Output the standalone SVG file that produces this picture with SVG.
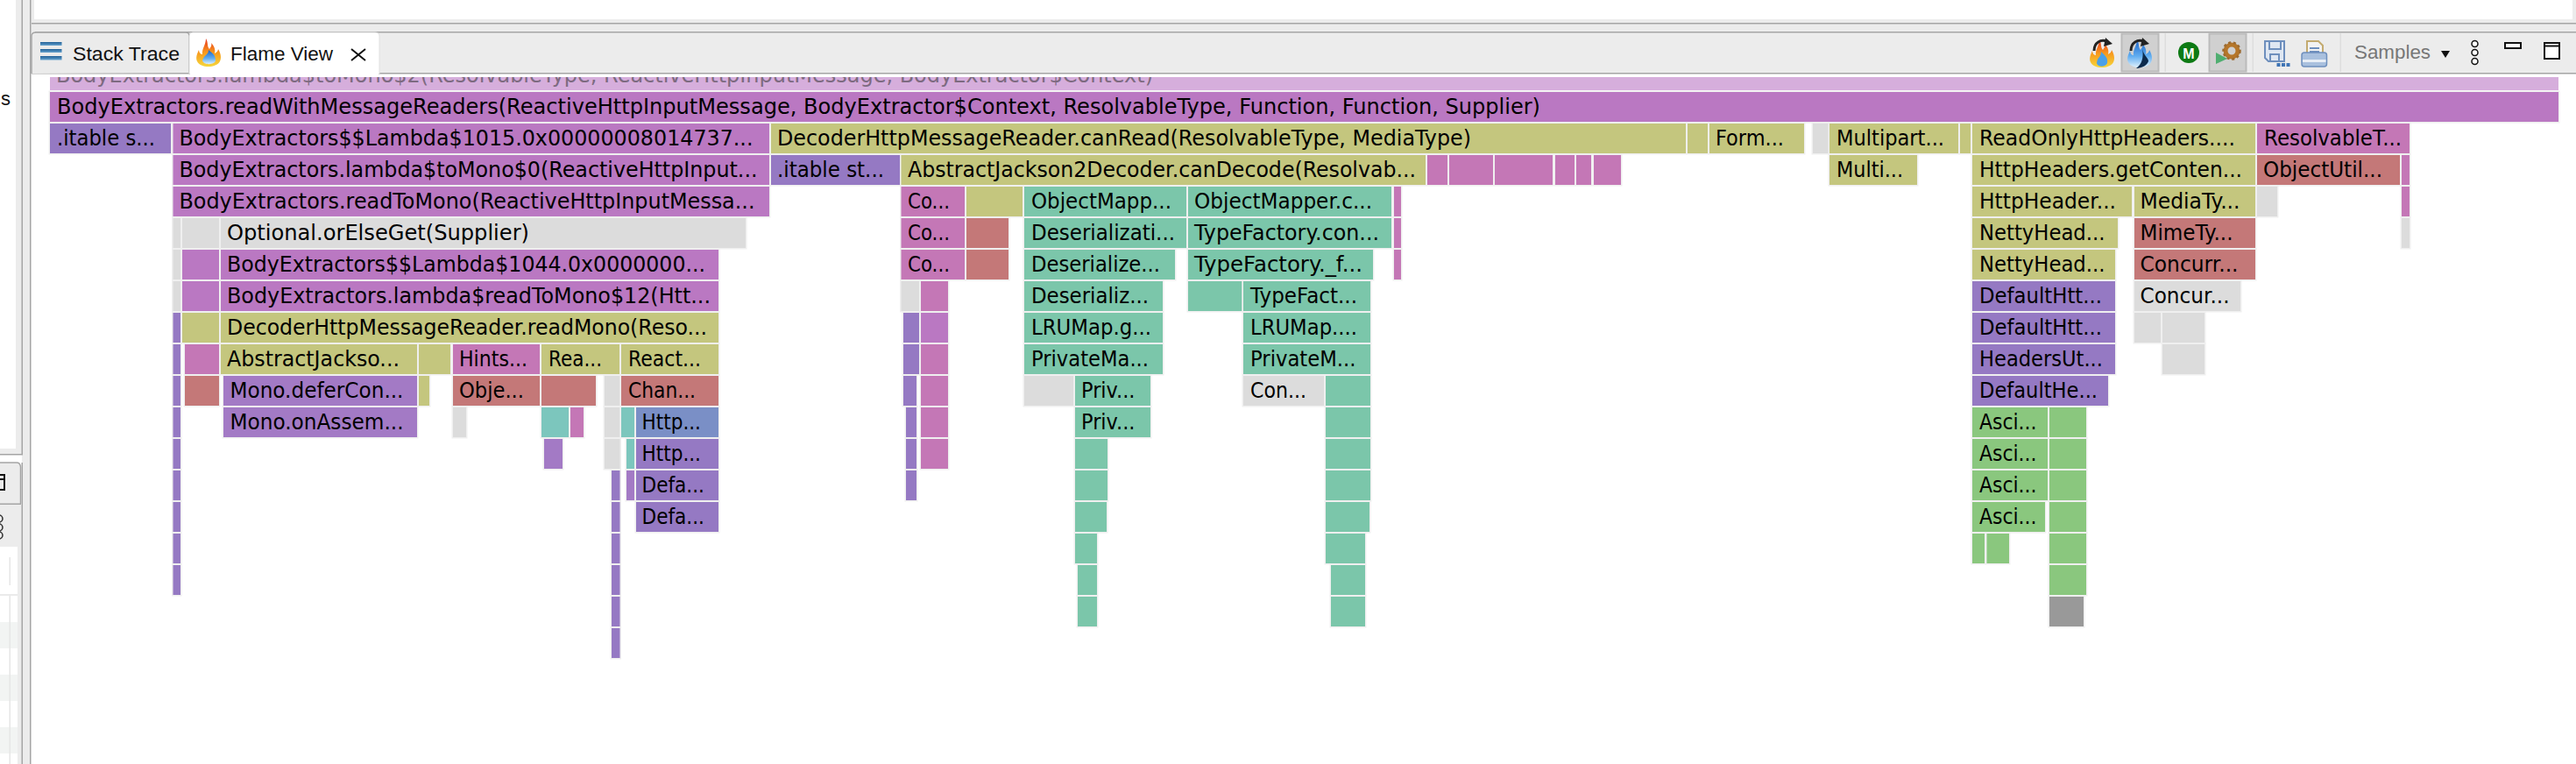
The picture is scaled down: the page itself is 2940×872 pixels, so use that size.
<svg xmlns="http://www.w3.org/2000/svg" width="2940" height="872" viewBox="0 0 2940 872">
<style>
.n rect{height:34px;stroke:#efefef;stroke-width:3;paint-order:stroke}
.n text{font:24px "DejaVu Sans",sans-serif;fill:#000}
.b{fill:#ba78c2}.k{fill:#c477b6}.y{fill:#c4c67e}.p{fill:#9579c3}.l{fill:#a37ac5}.r{fill:#c47878}.t{fill:#7bc6aa}.u{fill:#7cc6bd}.g{fill:#dcdcdc}.e{fill:#8ac77e}.d{fill:#999}.v{fill:#7a8fc6}
.ln{fill:#a5a5a5}.bar{fill:#ececec}
.ui{font:22px "Liberation Sans",Arial,sans-serif;fill:#111}
</style>
<defs>
<clipPath id="c0"><rect x="0" y="88" width="2940" height="20"/></clipPath>
<linearGradient id="hot" x1="0" y1="0" x2="0" y2="1"><stop offset="0" stop-color="#e8341c"/><stop offset=".5" stop-color="#f79a1e"/><stop offset="1" stop-color="#f5d63c"/></linearGradient>
<linearGradient id="cold" x1="0" y1="0" x2="0" y2="1"><stop offset="0" stop-color="#1560c8"/><stop offset=".6" stop-color="#62aef0"/><stop offset="1" stop-color="#dff0fc"/></linearGradient>
<linearGradient id="bars" x1="0" y1="0" x2="0" y2="1"><stop offset="0" stop-color="#1f5f96"/><stop offset="1" stop-color="#6aa5cf"/></linearGradient>
<path id="fl" d="M11 0C14 5 12 9 15 12C17 9 18 7 17 5C21 9 22 13 21 17C23 16 25 14 25 12C28 17 29 22 27 26C25 30 19 32 14 32C8 32 3 30 1 26C-1 22 1 17 3 13C3 16 5 18 7 18C6 12 11 7 11 0Z"/>
</defs>

<g id="chrome">
<rect x="0" y="0" width="2940" height="872" fill="#fff"/>
<rect class="bar" x="18" y="0" width="7" height="512"/>
<rect class="bar" x="0" y="512" width="25" height="7"/>
<rect class="bar" x="25" y="0" width="10" height="872"/>
<rect class="ln" x="24.5" y="0" width="1.5" height="519"/>
<rect class="ln" x="0" y="518" width="26" height="1.5"/>
<rect class="bar" x="35" y="0" width="4" height="26"/>
<rect class="bar" x="35" y="22" width="2905" height="15"/>
<rect x="2936" y="0" width="4" height="26" class="bar"/>
<rect class="ln" x="36" y="26" width="2904" height="1.5"/>
<rect class="bar" x="36" y="37" width="2904" height="46"/>
<rect class="ln" x="40" y="36" width="2900" height="1.5"/>
<rect class="ln" x="34" y="0" width="1.5" height="872"/>
<rect class="ln" x="36" y="83" width="2904" height="1.5"/>
<path d="M36 84V41Q36 37 41 37H212Q216 37 216 41V83" fill="#ebebeb" stroke="#a5a5a5" stroke-width="1.5"/>
<path d="M216 84V41Q216 37 220 37H428Q433 37 433 41V84" fill="#fff" stroke="#e0e0e0" stroke-width="1"/>
<rect x="217" y="82" width="215" height="3" fill="#fff"/>
<rect x="46" y="48" width="24.500" height="4" fill="url(#bars)"/>
<rect x="46" y="56" width="24.500" height="4" fill="url(#bars)"/>
<rect x="46" y="64" width="24.500" height="4.500" fill="url(#bars)"/>
<text class="ui" x="83" y="69" textLength="122" lengthAdjust="spacingAndGlyphs">Stack Trace</text>
<use href="#fl" x="224" y="44" fill="url(#hot)"/>
<path d="M231 69C233 62 238 63 238 57C243 61 246 63 246 69C246 74 232 75 231 69Z" fill="url(#cold)"/>
<text class="ui" x="263" y="69" textLength="117" lengthAdjust="spacingAndGlyphs">Flame View</text>
<path d="M401 56L417 69M417 56L401 69" stroke="#111" stroke-width="2" fill="none"/>
<text class="ui" x="1" y="120">s</text>
<rect x="0" y="528" width="23" height="47" fill="#ececec"/>
<path d="M0 528H19Q23 528 23.500 533V575" fill="none" stroke="#a5a5a5" stroke-width="1.500"/>
<rect class="ln" x="0" y="574.500" width="24" height="1.500"/>
<rect class="bar" x="0" y="576" width="25" height="48"/>
<rect x="0" y="624" width="20" height="248" fill="#fff"/>
<rect class="bar" x="20" y="576" width="5" height="296"/>
<rect class="ln" x="24.500" y="528" width="1.500" height="344"/>
<path d="M-3 542H5V559H-3M-3 547H5" fill="none" stroke="#111" stroke-width="2"/>
<g fill="none" stroke="#333" stroke-width="1.500"><circle cx="-1" cy="592" r="4"/><circle cx="-1" cy="602" r="4"/><circle cx="-1" cy="611" r="4"/></g>
<rect x="0" y="678" width="20" height="2" fill="#eaeaea"/>
<rect x="0" y="710" width="20" height="30" fill="#f2f4f3"/>
<rect x="0" y="770" width="20" height="30" fill="#f2f4f3"/>
<rect x="0" y="830" width="20" height="30" fill="#f2f4f3"/>
<rect x="10.500" y="636" width="1.500" height="32" fill="#e6e6e6"/>
<rect x="10.500" y="680" width="1.500" height="192" fill="#e6e6e6"/>
</g>

<g id="toolbar">
<rect x="2421.500" y="38.500" width="42" height="43" fill="#d0d0d0" stroke="#bbb" stroke-width="2"/>
<rect x="2521.500" y="38.500" width="42" height="43" fill="#d0d0d0" stroke="#bbb" stroke-width="2"/>
<rect x="2470.500" y="38" width="1.500" height="44" fill="#ddd"/>
<rect x="2570.500" y="38" width="1.500" height="44" fill="#ddd"/>
<rect x="2670.500" y="38" width="1.500" height="44" fill="#ddd"/>
<g id="flame-forward">
<use href="#fl" x="2385" y="45" fill="url(#hot)"/>
<path d="M2393 72C2394 64 2398 66 2398 59C2403 64 2406 66 2405 72C2403 77 2394 77 2393 72Z" fill="#4aa0e8"/>
<path d="M2390 58C2390 48 2398 45 2404 47" fill="none" stroke="#222" stroke-width="3"/>
<path d="M2403 43L2411 50L2401 53Z" fill="#222"/>
</g>
<g id="flame-reverse">
<use href="#fl" x="2428" y="45" fill="url(#cold)"/>
<path d="M2445 56C2447 64 2452 66 2452 70C2450 76 2442 78 2438 78C2444 74 2447 66 2445 56Z" fill="#0c2a4c"/>
<path d="M2432 58C2432 48 2440 45 2446 47" fill="none" stroke="#222" stroke-width="3"/>
<path d="M2445 43L2453 50L2443 53Z" fill="#222"/>
</g>
<g id="icon-m">
<circle cx="2498" cy="60" r="12" fill="#0d7a14"/>
<text x="2498" y="66.500" text-anchor="middle" style="font:bold 16px 'Liberation Sans',sans-serif" fill="#fff">M</text>
</g>
<g id="icon-gear">
<circle cx="2547" cy="58" r="7" fill="none" stroke="#b5762a" stroke-width="5"/>
<circle cx="2547" cy="58" r="9.500" fill="none" stroke="#9c6a30" stroke-width="2.500" stroke-dasharray="3 2.800"/>
<path d="M2529 60L2542 67L2529 73Z" fill="#4fae70"/>
</g>
<g id="icon-save" fill="none" stroke="#6e8fbd" stroke-width="2">
<path d="M2585 47H2607V70H2589L2585 66Z" fill="#dfe7f2"/>
<path d="M2590 47V56H2603V47M2591 70V62H2601V70"/>
<g fill="#3f74b5" stroke="none"><rect x="2598.500" y="72" width="4" height="4"/><rect x="2604" y="72" width="4" height="4"/><rect x="2609.500" y="72" width="4" height="4"/></g>
</g>
<g id="icon-print">
<path d="M2633 47H2646L2651 52V64H2633Z" fill="#f2f2f2" stroke="#c4ab70" stroke-width="2"/>
<path d="M2636 55H2647M2636 59H2647" stroke="#6e8fbd" stroke-width="2"/>
<rect x="2627" y="60" width="28.500" height="16" rx="3" fill="#a9c0de" stroke="#6e8fbd" stroke-width="1.500"/>
<rect x="2628" y="68" width="26.500" height="3" fill="#e8eef6"/>
</g>
<text x="2687" y="67" textLength="87" lengthAdjust="spacingAndGlyphs" style="font:22px 'Liberation Sans',sans-serif" fill="#777">Samples</text>
<path d="M2786 58H2796L2791 66Z" fill="#111"/>
<g fill="#fff" stroke="#111" stroke-width="1.500"><circle cx="2824.500" cy="50" r="3.500"/><circle cx="2824.500" cy="60" r="3.500"/><circle cx="2824.500" cy="70" r="3.500"/></g>
<rect x="2859" y="49" width="18" height="6" fill="#fff" stroke="#111" stroke-width="2"/>
<path d="M2904 49H2921V67H2904ZM2904 52.500H2921" fill="#fff" stroke="#111" stroke-width="2"/>
</g>

<g id="flamegraph" class="n">
<g id="f0"><rect x="57" y="88" width="2863" style="height:15px;stroke:none" fill="#d6aedc"/><text x="64" y="93.500" clip-path="url(#c0)" style="fill:#7d6a80" textLength="1252" lengthAdjust="spacingAndGlyphs">BodyExtractors.lambda$toMono$2(ResolvableType, ReactiveHttpInputMessage, BodyExtractor$Context)</text></g>
<g id="f1"><rect class="b" x="57" y="105" width="2863"/><text x="65" y="129.500" textLength="1693" lengthAdjust="spacingAndGlyphs">BodyExtractors.readWithMessageReaders(ReactiveHttpInputMessage, BodyExtractor$Context, ResolvableType, Function, Function, Supplier)</text></g>

<g id="f2a"><rect class="p" x="57" y="141" width="138"/><text x="65" y="165.500" textLength="112" lengthAdjust="spacingAndGlyphs">.itable s...</text></g>
<g id="f2b"><rect class="b" x="197.500" y="141" width="680.500"/><text x="204.500" y="165.500" textLength="655" lengthAdjust="spacingAndGlyphs">BodyExtractors$$Lambda$1015.0x00000008014737...</text></g>
<g id="f2c"><rect class="y" x="880" y="141" width="1044"/><text x="887" y="165.500" textLength="792" lengthAdjust="spacingAndGlyphs">DecoderHttpMessageReader.canRead(ResolvableType, MediaType)</text></g>
<g id="f2d"><rect class="y" x="1926" y="141" width="23"/></g>
<g id="f2e"><rect class="y" x="1951" y="141" width="108"/><text x="1958" y="165.500" textLength="78" lengthAdjust="spacingAndGlyphs">Form...</text></g>
<g id="f2f"><rect class="g" x="2069" y="141" width="18"/></g>
<g id="f2g"><rect class="y" x="2088" y="141" width="147"/><text x="2096" y="165.500" textLength="123" lengthAdjust="spacingAndGlyphs">Multipart...</text></g>
<g id="f2h"><rect class="y" x="2237" y="141" width="12"/></g>
<g id="f2i"><rect class="y" x="2251" y="141" width="323"/><text x="2259" y="165.500" textLength="292" lengthAdjust="spacingAndGlyphs">ReadOnlyHttpHeaders....</text></g>
<g id="f2j"><rect class="k" x="2576" y="141" width="174"/><text x="2584" y="165.500" textLength="157" lengthAdjust="spacingAndGlyphs">ResolvableT...</text></g>

<g id="f3a"><rect class="b" x="197.500" y="177" width="680.500"/><text x="204.500" y="201.500" textLength="660" lengthAdjust="spacingAndGlyphs">BodyExtractors.lambda$toMono$0(ReactiveHttpInput...</text></g>
<g id="f3b"><rect class="p" x="880" y="177" width="147"/><text x="887" y="201.500" textLength="122" lengthAdjust="spacingAndGlyphs">.itable st...</text></g>
<g id="f3c"><rect class="y" x="1028.500" y="177" width="598.500"/><text x="1036" y="201.500" textLength="580" lengthAdjust="spacingAndGlyphs">AbstractJackson2Decoder.canDecode(Resolvab...</text></g>
<g id="f3d"><rect class="k" x="1629" y="177" width="23"/></g>
<g id="f3e"><rect class="k" x="1654" y="177" width="50"/></g>
<g id="f3f"><rect class="k" x="1706" y="177" width="66"/></g>
<g id="f3g"><rect class="k" x="1775" y="177" width="22"/></g>
<g id="f3h"><rect class="k" x="1799" y="177" width="17"/></g>
<g id="f3i"><rect class="k" x="1819" y="177" width="31"/></g>
<g id="f3j"><rect class="y" x="2088" y="177" width="100"/><text x="2096" y="201.500" textLength="76" lengthAdjust="spacingAndGlyphs">Multi...</text></g>
<g id="f3k"><rect class="y" x="2251" y="177" width="323"/><text x="2259" y="201.500" textLength="300" lengthAdjust="spacingAndGlyphs">HttpHeaders.getConten...</text></g>
<g id="f3l"><rect class="r" x="2576" y="177" width="163"/><text x="2583" y="201.500" textLength="136" lengthAdjust="spacingAndGlyphs">ObjectUtil...</text></g>
<g id="f3m"><rect class="k" x="2741" y="177" width="9"/></g>

<g id="f4a"><rect class="b" x="197.500" y="213" width="680.500"/><text x="204.500" y="237.500" textLength="657" lengthAdjust="spacingAndGlyphs">BodyExtractors.readToMono(ReactiveHttpInputMessa...</text></g>
<g id="f4b"><rect class="k" x="1028.500" y="213" width="72.500"/><text x="1036" y="237.500" textLength="48" lengthAdjust="spacingAndGlyphs">Co...</text></g>
<g id="f4c"><rect class="y" x="1103" y="213" width="64"/></g>
<g id="f4d"><rect class="t" x="1169" y="213" width="185"/><text x="1177" y="237.500" textLength="160" lengthAdjust="spacingAndGlyphs">ObjectMapp...</text></g>
<g id="f4e"><rect class="t" x="1356" y="213" width="232"/><text x="1363" y="237.500" textLength="203" lengthAdjust="spacingAndGlyphs">ObjectMapper.c...</text></g>
<g id="f4f"><rect class="k" x="1591" y="213" width="8"/></g>
<g id="f4g"><rect class="y" x="2251" y="213" width="182"/><text x="2259" y="237.500" textLength="156" lengthAdjust="spacingAndGlyphs">HttpHeader...</text></g>
<g id="f4h"><rect class="y" x="2436" y="213" width="138"/><text x="2442.500" y="237.500" textLength="114" lengthAdjust="spacingAndGlyphs">MediaTy...</text></g>
<g id="f4i"><rect class="g" x="2576" y="213" width="23"/></g>
<g id="f4j"><rect class="k" x="2741" y="213" width="9"/></g>

<g id="f5a"><rect class="g" x="197.500" y="249" width="8.500"/></g>
<g id="f5b"><rect class="g" x="208" y="249" width="42"/></g>
<g id="f5c"><rect class="g" x="252" y="249" width="599"/><text x="259" y="273.500" textLength="345" lengthAdjust="spacingAndGlyphs">Optional.orElseGet(Supplier)</text></g>
<g id="f5d"><rect class="k" x="1028.500" y="249" width="72.500"/><text x="1036" y="273.500" textLength="48" lengthAdjust="spacingAndGlyphs">Co...</text></g>
<g id="f5e"><rect class="r" x="1103" y="249" width="48"/></g>
<g id="f5f"><rect class="t" x="1169" y="249" width="185"/><text x="1177" y="273.500" textLength="164" lengthAdjust="spacingAndGlyphs">Deserializati...</text></g>
<g id="f5g"><rect class="t" x="1356" y="249" width="232"/><text x="1363" y="273.500" textLength="211" lengthAdjust="spacingAndGlyphs">TypeFactory.con...</text></g>
<g id="f5h"><rect class="k" x="1591" y="249" width="8"/></g>
<g id="f5i"><rect class="y" x="2251" y="249" width="166"/><text x="2259" y="273.500" textLength="143.500" lengthAdjust="spacingAndGlyphs">NettyHead...</text></g>
<g id="f5j"><rect class="r" x="2436" y="249" width="138"/><text x="2442.500" y="273.500" textLength="106" lengthAdjust="spacingAndGlyphs">MimeTy...</text></g>
<g id="f5k"><rect class="g" x="2741" y="249" width="9"/></g>

<g id="f6a"><rect class="g" x="197.500" y="285" width="8.500"/></g>
<g id="f6b"><rect class="b" x="208" y="285" width="42"/></g>
<g id="f6c"><rect class="b" x="252" y="285" width="568"/><text x="259" y="309.500" textLength="546" lengthAdjust="spacingAndGlyphs">BodyExtractors$$Lambda$1044.0x0000000...</text></g>
<g id="f6d"><rect class="k" x="1028.500" y="285" width="72.500"/><text x="1036" y="309.500" textLength="48" lengthAdjust="spacingAndGlyphs">Co...</text></g>
<g id="f6e"><rect class="r" x="1103" y="285" width="48"/></g>
<g id="f6f"><rect class="t" x="1169" y="285" width="172"/><text x="1177" y="309.500" textLength="147" lengthAdjust="spacingAndGlyphs">Deserialize...</text></g>
<g id="f6g"><rect class="t" x="1356" y="285" width="211"/><text x="1363" y="309.500" textLength="192" lengthAdjust="spacingAndGlyphs">TypeFactory._f...</text></g>
<g id="f6h"><rect class="k" x="1591" y="285" width="8"/></g>
<g id="f6i"><rect class="y" x="2251" y="285" width="163"/><text x="2259" y="309.500" textLength="143.500" lengthAdjust="spacingAndGlyphs">NettyHead...</text></g>
<g id="f6j"><rect class="r" x="2436" y="285" width="138"/><text x="2442.500" y="309.500" textLength="112" lengthAdjust="spacingAndGlyphs">Concurr...</text></g>

<g id="f7a"><rect class="g" x="197.500" y="321" width="8.500"/></g>
<g id="f7b"><rect class="b" x="208" y="321" width="42"/></g>
<g id="f7c"><rect class="b" x="252" y="321" width="568"/><text x="259" y="345.500" textLength="552" lengthAdjust="spacingAndGlyphs">BodyExtractors.lambda$readToMono$12(Htt...</text></g>
<g id="f7d"><rect class="g" x="1028.500" y="321" width="20.500"/></g>
<g id="f7e"><rect class="k" x="1051" y="321" width="31"/></g>
<g id="f7f"><rect class="t" x="1169" y="321" width="158"/><text x="1177" y="345.500" textLength="134" lengthAdjust="spacingAndGlyphs">Deserializ...</text></g>
<g id="f7g"><rect class="t" x="1356" y="321" width="61.500"/></g>
<g id="f7h"><rect class="t" x="1419" y="321" width="145"/><text x="1427" y="345.500" textLength="122" lengthAdjust="spacingAndGlyphs">TypeFact...</text></g>
<g id="f7i"><rect class="p" x="2251" y="321" width="163"/><text x="2259" y="345.500" textLength="140" lengthAdjust="spacingAndGlyphs">DefaultHtt...</text></g>
<g id="f7j"><rect class="g" x="2436" y="321" width="121"/><text x="2442.500" y="345.500" textLength="102" lengthAdjust="spacingAndGlyphs">Concur...</text></g>

<g id="f8a"><rect class="p" x="197.500" y="357" width="8.500"/></g>
<g id="f8b"><rect class="y" x="208" y="357" width="42"/></g>
<g id="f8c"><rect class="y" x="252" y="357" width="568"/><text x="259" y="381.500" textLength="548" lengthAdjust="spacingAndGlyphs">DecoderHttpMessageReader.readMono(Reso...</text></g>
<g id="f8d"><rect class="p" x="1031" y="357" width="18"/></g>
<g id="f8e"><rect class="b" x="1051" y="357" width="31"/></g>
<g id="f8f"><rect class="t" x="1169" y="357" width="158"/><text x="1177" y="381.500" textLength="137" lengthAdjust="spacingAndGlyphs">LRUMap.g...</text></g>
<g id="f8g"><rect class="t" x="1419" y="357" width="145"/><text x="1427" y="381.500" textLength="122" lengthAdjust="spacingAndGlyphs">LRUMap....</text></g>
<g id="f8h"><rect class="p" x="2251" y="357" width="163"/><text x="2259" y="381.500" textLength="140" lengthAdjust="spacingAndGlyphs">DefaultHtt...</text></g>
<g id="f8i"><rect class="g" x="2436" y="357" width="30"/></g>
<g id="f8j"><rect class="g" x="2468" y="357" width="48"/></g>

<g id="f9a"><rect class="p" x="197.500" y="393" width="8.500"/></g>
<g id="f9b"><rect class="k" x="211" y="393" width="39"/></g>
<g id="f9c"><rect class="y" x="252" y="393" width="224"/><text x="259" y="417.500" textLength="197" lengthAdjust="spacingAndGlyphs">AbstractJackso...</text></g>
<g id="f9d"><rect class="y" x="478" y="393" width="36"/></g>
<g id="f9e"><rect class="k" x="517" y="393" width="99"/><text x="524" y="417.500" textLength="78" lengthAdjust="spacingAndGlyphs">Hints...</text></g>
<g id="f9f"><rect class="y" x="618" y="393" width="89"/><text x="626" y="417.500" textLength="61" lengthAdjust="spacingAndGlyphs">Rea...</text></g>
<g id="f9g"><rect class="y" x="709" y="393" width="111"/><text x="717" y="417.500" textLength="83" lengthAdjust="spacingAndGlyphs">React...</text></g>
<g id="f9h"><rect class="p" x="1031" y="393" width="18"/></g>
<g id="f9i"><rect class="k" x="1051" y="393" width="31"/></g>
<g id="f9j"><rect class="t" x="1169" y="393" width="158"/><text x="1177" y="417.500" textLength="134" lengthAdjust="spacingAndGlyphs">PrivateMa...</text></g>
<g id="f9k"><rect class="t" x="1419" y="393" width="145"/><text x="1427" y="417.500" textLength="120.500" lengthAdjust="spacingAndGlyphs">PrivateM...</text></g>
<g id="f9l"><rect class="p" x="2251" y="393" width="163"/><text x="2259" y="417.500" textLength="141" lengthAdjust="spacingAndGlyphs">HeadersUt...</text></g>
<g id="f9m"><rect class="g" x="2468" y="393" width="48"/></g>

<g id="f10a"><rect class="p" x="197.500" y="429" width="8.500"/></g>
<g id="f10b"><rect class="r" x="211" y="429" width="39"/></g>
<g id="f10c"><rect class="l" x="255" y="429" width="221"/><text x="262.500" y="453.500" textLength="198" lengthAdjust="spacingAndGlyphs">Mono.deferCon...</text></g>
<g id="f10d"><rect class="y" x="478" y="429" width="12"/></g>
<g id="f10e"><rect class="r" x="517" y="429" width="99"/><text x="524" y="453.500" textLength="74" lengthAdjust="spacingAndGlyphs">Obje...</text></g>
<g id="f10f"><rect class="r" x="618" y="429" width="62"/></g>
<g id="f10g"><rect class="g" x="690" y="429" width="17.500"/></g>
<g id="f10h"><rect class="r" x="709" y="429" width="111"/><text x="717" y="453.500" textLength="77" lengthAdjust="spacingAndGlyphs">Chan...</text></g>
<g id="f10i"><rect class="p" x="1031" y="429" width="15"/></g>
<g id="f10j"><rect class="k" x="1051" y="429" width="31"/></g>
<g id="f10k"><rect class="g" x="1169" y="429" width="56"/></g>
<g id="f10l"><rect class="t" x="1227" y="429" width="86"/><text x="1234" y="453.500" textLength="61.500" lengthAdjust="spacingAndGlyphs">Priv...</text></g>
<g id="f10m"><rect class="g" x="1419" y="429" width="92"/><text x="1427" y="453.500" textLength="64" lengthAdjust="spacingAndGlyphs">Con...</text></g>
<g id="f10n"><rect class="t" x="1513" y="429" width="51"/></g>
<g id="f10o"><rect class="p" x="2251" y="429" width="155"/><text x="2259" y="453.500" textLength="135" lengthAdjust="spacingAndGlyphs">DefaultHe...</text></g>

<g id="f11a"><rect class="p" x="197.500" y="465" width="8.500"/></g>
<g id="f11b"><rect class="l" x="255" y="465" width="221"/><text x="262.500" y="489.500" textLength="198" lengthAdjust="spacingAndGlyphs">Mono.onAssem...</text></g>
<g id="f11c"><rect class="g" x="517" y="465" width="15"/></g>
<g id="f11d"><rect class="u" x="618" y="465" width="31"/></g>
<g id="f11e"><rect class="k" x="651" y="465" width="15"/></g>
<g id="f11f"><rect class="g" x="690" y="465" width="17.500"/></g>
<g id="f11g"><rect class="u" x="709" y="465" width="15"/></g>
<g id="f11h"><rect class="v" x="726" y="465" width="94"/><text x="732.500" y="489.500" textLength="67.500" lengthAdjust="spacingAndGlyphs">Http...</text></g>
<g id="f11i"><rect class="p" x="1034" y="465" width="12"/></g>
<g id="f11j"><rect class="k" x="1051" y="465" width="31"/></g>
<g id="f11k"><rect class="t" x="1227" y="465" width="86"/><text x="1234" y="489.500" textLength="61.500" lengthAdjust="spacingAndGlyphs">Priv...</text></g>
<g id="f11l"><rect class="t" x="1513" y="465" width="51"/></g>
<g id="f11m"><rect class="e" x="2251" y="465" width="86"/><text x="2259" y="489.500" textLength="65.500" lengthAdjust="spacingAndGlyphs">Asci...</text></g>
<g id="f11n"><rect class="e" x="2339" y="465" width="42"/></g>

<g id="f12a"><rect class="p" x="197.500" y="501" width="8.500"/></g>
<g id="f12b"><rect class="l" x="621" y="501" width="21"/></g>
<g id="f12c"><rect class="g" x="690" y="501" width="17.500"/></g>
<g id="f12d"><rect class="u" x="715" y="501" width="9"/></g>
<g id="f12e"><rect class="p" x="726" y="501" width="94"/><text x="732.500" y="525.500" textLength="67.500" lengthAdjust="spacingAndGlyphs">Http...</text></g>
<g id="f12f"><rect class="p" x="1034" y="501" width="12"/></g>
<g id="f12g"><rect class="k" x="1051" y="501" width="31"/></g>
<g id="f12h"><rect class="t" x="1227" y="501" width="37"/></g>
<g id="f12i"><rect class="t" x="1513" y="501" width="51"/></g>
<g id="f12j"><rect class="e" x="2251" y="501" width="86"/><text x="2259" y="525.500" textLength="65.500" lengthAdjust="spacingAndGlyphs">Asci...</text></g>
<g id="f12k"><rect class="e" x="2339" y="501" width="42"/></g>

<g id="f13a"><rect class="p" x="197.500" y="537" width="8.500"/></g>
<g id="f13b"><rect class="p" x="698" y="537" width="9.500"/></g>
<g id="f13c"><rect class="l" x="715" y="537" width="9"/></g>
<g id="f13d"><rect class="p" x="726" y="537" width="94"/><text x="732.500" y="561.500" textLength="71.500" lengthAdjust="spacingAndGlyphs">Defa...</text></g>
<g id="f13e"><rect class="p" x="1034" y="537" width="12"/></g>
<g id="f13f"><rect class="t" x="1227" y="537" width="37"/></g>
<g id="f13g"><rect class="t" x="1513" y="537" width="51"/></g>
<g id="f13h"><rect class="e" x="2251" y="537" width="86"/><text x="2259" y="561.500" textLength="65.500" lengthAdjust="spacingAndGlyphs">Asci...</text></g>
<g id="f13i"><rect class="e" x="2339" y="537" width="42"/></g>

<g id="f14a"><rect class="p" x="197.500" y="573" width="8.500"/></g>
<g id="f14b"><rect class="p" x="698" y="573" width="9.500"/></g>
<g id="f14c"><rect class="p" x="726" y="573" width="94"/><text x="732.500" y="597.500" textLength="71.500" lengthAdjust="spacingAndGlyphs">Defa...</text></g>
<g id="f14d"><rect class="t" x="1227" y="573" width="36"/></g>
<g id="f14e"><rect class="t" x="1513" y="573" width="50"/></g>
<g id="f14f"><rect class="e" x="2251" y="573" width="83"/><text x="2259" y="597.500" textLength="65.500" lengthAdjust="spacingAndGlyphs">Asci...</text></g>
<g id="f14g"><rect class="e" x="2339" y="573" width="42"/></g>

<g id="f15a"><rect class="p" x="197.500" y="609" width="8.500"/></g>
<g id="f15b"><rect class="p" x="698" y="609" width="9.500"/></g>
<g id="f15c"><rect class="t" x="1227" y="609" width="25"/></g>
<g id="f15d"><rect class="t" x="1513" y="609" width="45"/></g>
<g id="f15e"><rect class="e" x="2251" y="609" width="14"/></g>
<g id="f15f"><rect class="e" x="2267.500" y="609" width="25.500"/></g>
<g id="f15g"><rect class="e" x="2339" y="609" width="42"/></g>

<g id="f16a"><rect class="p" x="197.500" y="645" width="8.500"/></g>
<g id="f16b"><rect class="p" x="698" y="645" width="9.500"/></g>
<g id="f16c"><rect class="t" x="1230" y="645" width="22"/></g>
<g id="f16d"><rect class="t" x="1519" y="645" width="39"/></g>
<g id="f16e"><rect class="e" x="2339" y="645" width="42"/></g>

<g id="f17a"><rect class="p" x="698" y="681" width="9.500"/></g>
<g id="f17b"><rect class="t" x="1230" y="681" width="22"/></g>
<g id="f17c"><rect class="t" x="1519" y="681" width="39"/></g>
<g id="f17d"><rect class="d" x="2339" y="681" width="39"/></g>

<g id="f18a"><rect class="p" x="698" y="717" width="9.500"/></g>
</g>
</svg>
